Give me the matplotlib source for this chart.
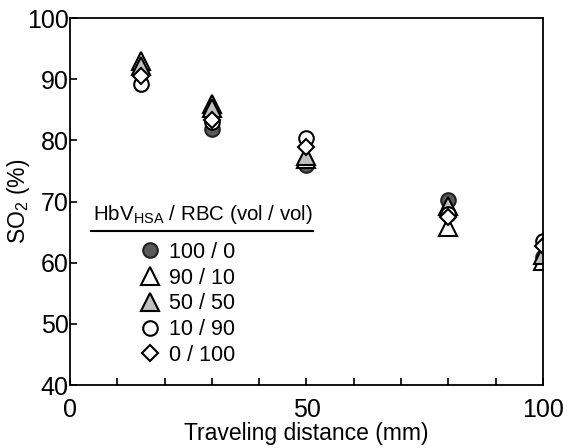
import matplotlib
matplotlib.use("Agg")
import matplotlib.pyplot as plt
from matplotlib.lines import Line2D

plt.rcParams['font.family'] = ['Liberation Sans', 'DejaVu Sans']
plt.rcParams['mathtext.default'] = 'regular'

distance = [15, 30, 50, 80, 100]
series_labels = ['100 / 0', '90 / 10', '50 / 50', '10 / 90', '0 / 100']
legend_title = 'HbV$_{HSA}$ / RBC (vol / vol)'
so2_100_0 = [91.0, 81.8, 76.0, 70.2, 61.0]
so2_90_10 = [93.0, 85.9, 77.0, 65.8, 60.2]
so2_50_50 = [92.2, 85.3, 77.4, 69.3, 61.2]
so2_10_90 = [89.2, 83.0, 80.4, 68.0, 63.5]
so2_0_100 = [90.6, 83.4, 78.9, 67.4, 62.8]

x_ticks_major = [0, 50, 100]
y_ticks = [40, 50, 60, 70, 80, 90, 100]

styles = [
    dict(marker='o', mfc='#5a5a5a', mec='#222222', ms=10.5),
    dict(marker='^', mfc='white', mec='black', ms=12.5),
    dict(marker='^', mfc='#c0c0c0', mec='black', ms=12.5),
    dict(marker='o', mfc='white', mec='black', ms=10.5),
    dict(marker='D', mfc='white', mec='black', ms=8.5),
]
all_series = [so2_100_0, so2_90_10, so2_50_50, so2_10_90, so2_0_100]

fig = plt.figure(figsize=(5.68, 4.48), dpi=100)
ax = fig.add_axes([0.1232, 0.1406, 0.8328, 0.8192])

handles = []
for vals, st, lab in zip(all_series, styles, series_labels):
    h, = ax.plot(distance, vals, linestyle='none', mew=1.5, label=lab, **st)
    handles.append(h)

ax.set_xlim(0, 100)
ax.set_ylim(40, 100)
ax.set_xticks(x_ticks_major)
ax.set_xticks(range(0, 101, 10), minor=True)
ax.set_yticks(y_ticks)
ax.tick_params(axis='both', which='both', direction='in', length=5, width=1.2,
               labelsize=18)
ax.tick_params(axis='x', which='both', top=False, pad=9)
ax.tick_params(axis='y', which='both', right=False, pad=1)
for s in ax.spines.values():
    s.set_linewidth(1.3)

ax.set_xlabel('Traveling distance (mm)', fontsize=16.5, labelpad=0.5)
ax.set_ylabel('SO$_2$ (%)', fontsize=16.5, labelpad=-4)

leg = ax.legend(handles=handles, loc='upper left',
                bbox_to_anchor=(0.146, 0.39), frameon=False,
                fontsize=15.5, labelspacing=0.22, borderaxespad=0,
                borderpad=0, handletextpad=0.4, handlelength=1.0)

title = ax.text(0.049, 0.465, legend_title, transform=ax.transAxes,
                ha='left', va='center', fontsize=14.8)
fig.canvas.draw()
bb = title.get_window_extent()
inv = fig.transFigure.inverted()
(x0, y0), (x1, y1) = inv.transform([[bb.x0 - 2, bb.y0 - 5], [bb.x1, bb.y0 - 5]])
fig.add_artist(Line2D([x0, x1], [y0, y1], color='black', lw=1.5,
                      transform=fig.transFigure))

fig.savefig('out.png', dpi=100)
